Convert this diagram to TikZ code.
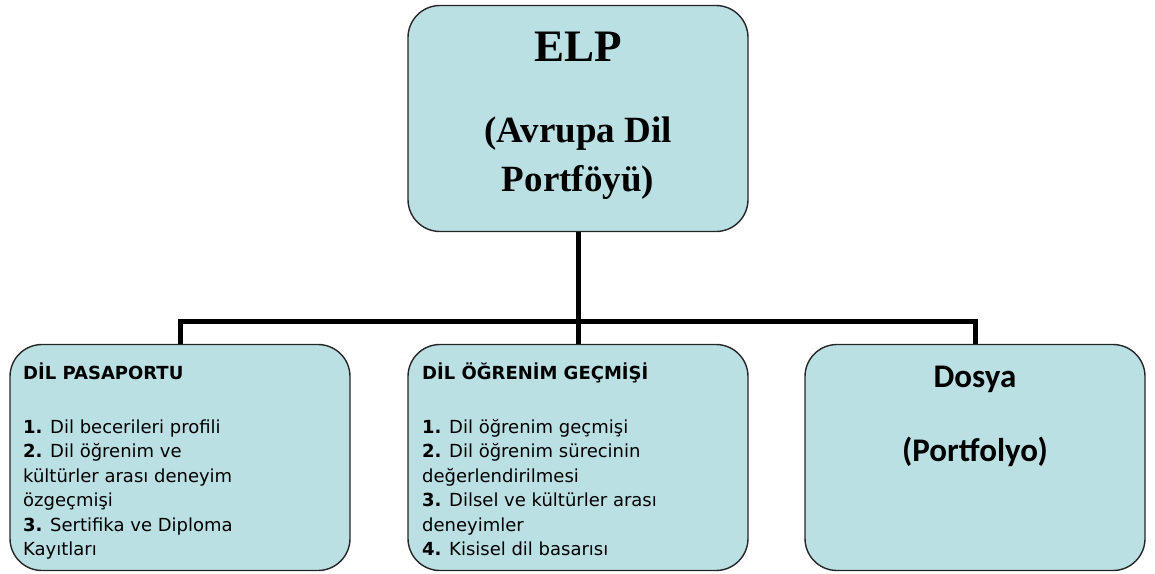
\documentclass[tikz,border=0pt]{standalone}
\usepackage{fontspec}
\setmainfont{Liberation Serif}
\newfontfamily\verdfont{DejaVu Sans}
\newfontfamily\calfont{Carlito}
\usetikzlibrary{positioning}
\definecolor{elpblue}{RGB}{186,224,227}

\begin{document}
\begin{tikzpicture}[
  x=1pt, y=-1pt,
  box/.style={rectangle, draw=black!85, fill=elpblue, line width=1.4pt, rounded corners=32pt, minimum width=340pt, minimum height=226pt, inner sep=0pt},
  listtext/.style={anchor=base west, align=left, inner sep=0pt, font=\verdfont\fontsize{18}{24.5}\selectfont},
  dosyatext/.style={anchor=base, inner sep=0pt, font=\calfont\bfseries\fontsize{33}{33}\selectfont},
  elptext/.style={anchor=base, inner sep=0pt, font=\bfseries},
  link/.style={draw=black, line width=5pt}
]
  \useasboundingbox (0,0) rectangle (1155,573);

  % Top box
  \node[box] (elp) at (578, 118.5) {};
  \node[elptext, font=\bfseries\fontsize{45}{45}\selectfont] (elpname) at ([yshift=-57pt]elp.north) {ELP};
  \node[elptext, font=\bfseries\fontsize{37}{37}\selectfont] (elpsub) at ([yshift=-138pt]elp.north) {(Avrupa Dil};
  \node[elptext, font=\bfseries\fontsize{37}{37}\selectfont] (elpsubb) at ([yshift=-187pt]elp.north) {Portföyü)};

  % Bottom boxes
  \node[box] (pasaport) at (180, 457.5) {};
  \node[box] (ogrenim) at (578, 457.5) {};
  \node[box] (dosya) at (975, 457.5) {};

  % Box texts (base is the last line)
  \node[listtext] (pasaporttext) at (23, 555.5) {%
    \textbf{DİL PASAPORTU}\\[29pt]
    \textbf{1.} Dil becerileri profili\\
    \textbf{2.} Dil öğrenim ve\\
    kültürler arası deneyim\\
    özgeçmişi\\
    \textbf{3.} Sertifika ve Diploma\\
    Kayıtları};
  \node[listtext] (ogrenimtext) at (422, 555.5) {%
    \textbf{DİL ÖĞRENİM GEÇMİŞİ}\\[29pt]
    \textbf{1.} Dil öğrenim geçmişi\\
    \textbf{2.} Dil öğrenim sürecinin\\
    değerlendirilmesi\\
    \textbf{3.} Dilsel ve kültürler arası\\
    deneyimler\\
    \textbf{4.} Kisisel dil basarısı};
  \node[dosyatext] (dosyaname) at ([yshift=-44pt]dosya.north) {Dosya};
  \node[dosyatext] (dosyasub) at ([yshift=-118pt]dosya.north) {(Portfolyo)};

  % Connectors
  \draw[link] (elp.south) -- (ogrenim.north);
  \draw[link] (pasaport.north) -- ++(0,-22) -| (dosya.north);

\end{tikzpicture}
\end{document}
